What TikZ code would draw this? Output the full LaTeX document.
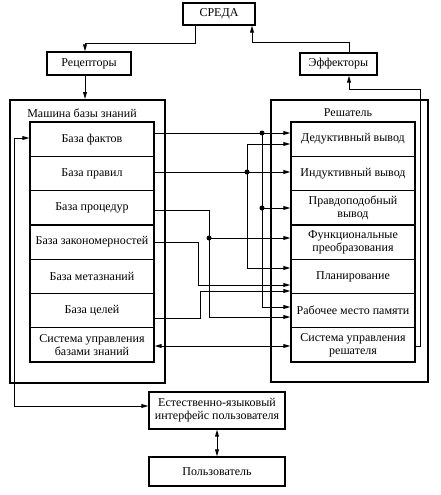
\documentclass[tikz,border=0pt]{standalone}
\usepackage{fontspec}
\setmainfont{Liberation Serif}
\usetikzlibrary{arrows.meta}

\tikzset{
  box/.style={draw,line width=1.3pt,inner sep=2pt,align=center},
  frame/.style={draw,line width=2pt,inner sep=0pt},
  cell/.style={box,minimum width=124pt,minimum height=34.3pt},
  arr/.style={line width=1pt,-{Triangle[length=7pt,width=3.8pt]}},
  arrs/.style={line width=1pt,{Triangle[length=7pt,width=3.8pt]}-{Triangle[length=7pt,width=3.8pt]}},
  junc/.style={circle,fill,inner sep=0pt,minimum size=5pt},
}

\begin{document}
\begin{tikzpicture}[x=1pt,y=-1pt,font=\fontsize{12}{13}\selectfont]
\useasboundingbox (0,0) rectangle (441,495);
% top row
\node[box,minimum width=72pt,minimum height=22pt] (sreda) at (219,14) {СРЕДА};
\node[box,minimum width=84pt,minimum height=23pt] (rec) at (89,63.5) {Рецепторы};
\node[box,minimum width=77pt,minimum height=22pt] (eff) at (338.5,64) {Эффекторы};

% the two big frames
\node[frame,minimum width=155pt,minimum height=283pt] (kbm) at (87,241.5) {};
\node[frame,minimum width=157pt,minimum height=282pt] (sol) at (349.5,241) {};
\node (kbmtitle) at (82,113) {Машина базы знаний};
\node (soltitle) at (348,113) {Решатель};

\foreach \i/\txt in {1/{База фактов},2/{База правил},3/{База процедур},
    4/{База закономерностей},5/{База метазнаний},6/{База целей},
    7/{Система управления\\базами знаний}}
  \node[cell] (k\i) at (92,{139.15+34.3*(\i-1)}) {\txt};
\foreach \i/\txt in {1/{Дедуктивный вывод},2/{Индуктивный вывод},
    3/{Правдоподобный\\вывод},4/{Функциональные\\преобразования},
    5/{Планирование},6/{Рабочее место памяти},7/{Система управления\\решателя}}
  \node[cell] (r\i) at (353,{139.15+34.3*(\i-1)}) {\txt};

% user side
\node[box,minimum width=136pt,minimum height=37pt] (ui) at (217,410.5) {Естественно-языковый\\интерфейс пользователя};
\node[box,minimum width=136pt,minimum height=29pt] (user) at (217,471.5) {Пользователь};

% junctions
\node[junc] (j1) at (262,133) {};
\node[junc] (j2) at (247,172) {};
\node[junc] (j3) at (262,208) {};
\node[junc] (j4) at (209,238) {};

% environment loop
\draw[arr] ([xshift=-24pt]sreda.south) -- ++(0,18) -| ([xshift=-4pt]rec.north);
\draw[arr] ([xshift=-4pt]rec.south) -- ([xshift=-4pt]rec.south |- kbm.north);
\draw[arr] ([xshift=10.5pt]eff.north) -- ++(0,-10) -| ([xshift=33pt]sreda.south);
\draw[arr] (r7.east |- 0,346) -| (420,89) -| ([xshift=10.5pt]eff.south);

% knowledge bases to solver
\draw[arr] (k1.east |- 0,133) -- (r1.west |- 0,133);
\draw[arr] (j1.center) |- (r6.west |- 0,307);
\draw[arr] (j3.center) -- (r3.west |- 0,208);
\draw[arr] (k2.east |- 0,172) -- (r2.west |- 0,172);
\draw[arr] (j2.center) |- (r1.west |- 0,144);
\draw[arr] (j2.center) |- (r5.west |- 0,268);
\draw[arr] (k3.east |- 0,210) -| (j4.center) -- (r4.west |- 0,238);
\draw[arr] (j4.center) |- (r6.west |- 0,317);
\draw[arr] (k4.east |- 0,242) -- ++(43.5,0) |- (r5.west |- 0,285);
\draw[arr] (k6.east |- 0,318) -- ++(45.5,0) |- (r5.west |- 0,291);
\draw[arrs] (k7.east |- 0,346) -- (r7.west |- 0,346);

% user interface
\draw[arrs] (k1.west |- 0,138) -| (14,406) -- (ui.west |- 0,406);
\draw[arrs] (ui.south) -- (user.north);
\end{tikzpicture}
\end{document}
